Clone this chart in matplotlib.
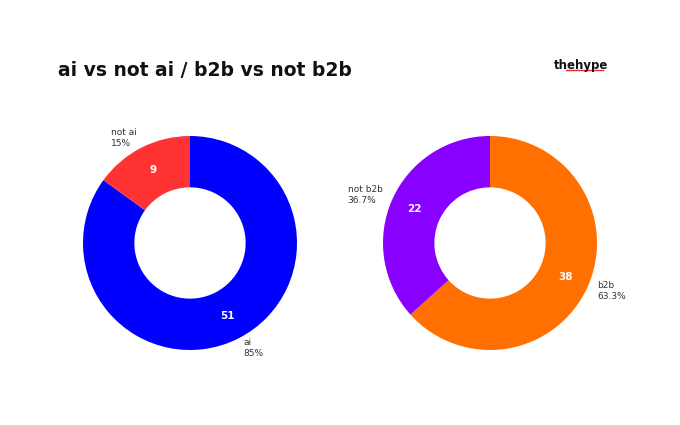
import matplotlib.pyplot as plt

# data
ai_labels = ['ai', 'not ai']
ai_values = [51, 9]
ai_colors = ['#0000ff', '#ff3333']

b2b_labels = ['b2b', 'not b2b']
b2b_values = [38, 22]
b2b_colors = ['#ff7000', '#8800ff']

fig = plt.figure(figsize=(6.8, 4.25), dpi=100)
W, H = 680, 425


def donut(cx, cy, labels, values, colors, pct_fmt):
    r = 107
    ax = fig.add_axes([(cx - r) / W, (H - cy - r) / H, 2 * r / W, 2 * r / H])
    total = sum(values)
    lbls = [f'{l}\n{pct_fmt(v / total * 100)}' for l, v in zip(labels, values)]
    wedges, texts, autos = ax.pie(
        values, colors=colors, labels=lbls, startangle=90, counterclock=False,
        wedgeprops=dict(width=0.48), labeldistance=1.1, pctdistance=0.77,
        autopct=lambda p: f'{round(p * total / 100)}',
        textprops=dict(fontsize=6.5, color='#333333'))
    for t in texts:
        t.set_multialignment('left')
    for t in autos:
        t.set_color('white')
        t.set_fontsize(7.5)
        t.set_fontweight('bold')
    ax.set_xlim(-1, 1)
    ax.set_ylim(-1, 1)
    ax.set_aspect('equal')


donut(190, 243, ai_labels, ai_values, ai_colors, lambda p: f'{p:.0f}%')
donut(490, 243, b2b_labels, b2b_values, b2b_colors, lambda p: f'{p:.1f}%')

fig.text(58 / W, 1 - 70 / H, 'ai vs not ai / b2b vs not b2b', fontsize=13.5,
         fontweight='bold', color='#111111', va='center')
fig.text(554 / W, 1 - 65 / H, 'thehype', fontsize=8.5, fontweight='bold',
         color='#111111', va='center')
fig.add_artist(plt.Line2D([566 / W, 603 / W], [1 - 70 / H] * 2, color='#e03030', lw=1))

fig.savefig('out.png', dpi=100)
